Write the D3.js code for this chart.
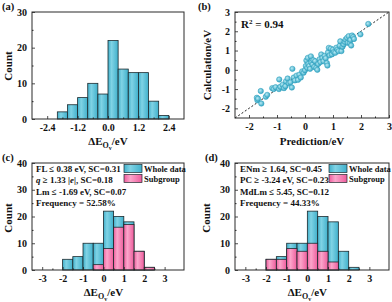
<!DOCTYPE html>
<html>
<head>
<meta charset="utf-8">
<script src="https://cdn.jsdelivr.net/npm/d3@7"></script>
<style>
body { margin: 0; background: #fff; }
text { font-family: "Liberation Serif", "Times New Roman", serif; font-weight: bold; fill: #111; }
</style>
</head>
<body>
<script>
// ---- data ----
var binEdgesA = [-2.0, -1.6, -1.2, -0.8, -0.4, 0, 0.4, 0.8, 1.2, 1.6, 2.0, 2.4];
var countsA = [2, 4, 6, 10, 7, 22, 14, 13, 13, 5, 1];
var xTicksA = [-2.4, -1.2, 0, 1.2, 2.4];
var yTicksA = [0, 10, 20, 30];

var prediction  = [-1.72,-1.70,-1.68,-1.58,-1.56,-1.40,-1.35,-1.17,-1.12,-1.05,-0.92,-0.93,-0.88,-0.80,-0.75,-0.70,-0.68,-0.62,-0.58,-0.52,-0.47,-0.45,-0.40,-0.36,-0.30,-0.25,-0.20,-0.15,-0.10,-0.05,0.00,0.03,0.05,0.08,0.10,0.12,0.15,0.18,0.21,0.23,0.27,0.30,0.33,0.36,0.40,0.44,0.47,0.52,0.55,0.58,0.62,0.66,0.70,0.74,0.78,0.80,0.82,0.85,0.88,0.92,0.96,1.00,1.03,1.08,1.12,1.16,1.20,1.24,1.26,1.30,1.34,1.38,1.42,1.45,1.50,1.53,1.56,1.60,1.62,1.65,1.68,1.72,1.75,1.98,2.26];
var calculation = [-1.45,-1.58,-1.50,-1.10,-1.75,-1.40,-1.30,-0.95,-1.00,-0.90,-0.50,-1.00,-0.88,-0.78,-0.95,-0.85,-0.60,-0.45,-0.70,-0.65,-0.92,0.05,-0.40,-0.55,-0.30,-0.52,-0.25,-0.40,-0.08,-0.15,-0.02,0.20,0.48,0.10,0.62,0.30,0.20,0.05,0.70,0.38,0.28,0.50,0.15,0.45,0.10,0.00,0.30,0.55,0.40,0.80,0.62,0.45,0.72,0.60,0.35,0.22,0.90,1.14,0.75,1.10,0.80,1.05,0.92,0.88,1.15,1.05,0.97,1.25,1.48,0.97,1.20,1.32,1.45,1.57,1.66,1.40,1.75,1.40,1.55,1.26,1.78,1.70,1.60,1.84,2.38];
var ticksB = [-2, -1, 0, 1, 2, 3];
var r2Label = "0.94";

var binEdgesCD = [-2, -1.5, -1, -0.5, 0, 0.5, 1, 1.5, 2, 2.5];
var wholeCounts = [4, 5, 10, 10, 22, 20, 18, 7, 1];
var subgroupC = [0, 0, 0, 2, 8, 16, 17, 7, 1];
var subgroupD = [4, 4, 8, 7, 10, 7, 3, 0, 0];
var xTicksCD = [-3, -2, -1, 0, 1, 2, 3];
var yTicksCD = [0, 10, 20, 30, 40];
var rulesC = ["FL ≤ 0.38 eV, SC=0.31", "*q* ≥ 1.33 |*e*|, SC=0.18", "Lm ≤ -1.69 eV, SC=0.07", "Frequency = 52.58%"];
var rulesD = ["ENm ≥ 1.64, SC=0.45", "PC ≥ -3.24 eV, SC=0.23", "MdLm ≤ 5.45, SC=0.12", "Frequency = 44.33%"];
var legendNames = ["Whole data", "Subgroup"];

var svg = d3.select("body").append("svg").attr("width", 392).attr("height", 302);

// gradients for the bevelled fills
var defs = svg.append("defs");
function barGrad(id, c1, c2) {
  var g = defs.append("linearGradient").attr("id", id).attr("x1", "0").attr("x2", "1").attr("y1", "0").attr("y2", "0");
  g.append("stop").attr("offset", "0").attr("stop-color", c2);
  g.append("stop").attr("offset", "0.35").attr("stop-color", c1);
  g.append("stop").attr("offset", "1").attr("stop-color", c2);
}
barGrad("cyan", "#80d3e5", "#40b0cb");
barGrad("pink", "#fba6cb", "#ee5c9c");
var rg = defs.append("radialGradient").attr("id", "ball").attr("cx", "0.4").attr("cy", "0.4").attr("r", "0.6");
rg.append("stop").attr("offset", "0").attr("stop-color", "#b8eaf4");
rg.append("stop").attr("offset", "1").attr("stop-color", "#36a7c4");

// frame + inward ticks
function drawAxes(g, x, y, xt, yt, xMinor, yMinor, xFmt) {
  var x0 = x.range()[0], x1 = x.range()[1], y0 = y.range()[0], y1 = y.range()[1];
  g.append("g").attr("transform", `translate(0,${y0})`)
    .call(d3.axisBottom(x).tickValues(xMinor).tickSize(-1.5).tickFormat(""))
    .call(s => s.select(".domain").remove());
  g.append("g").attr("transform", `translate(${x0},0)`)
    .call(d3.axisLeft(y).tickValues(yMinor).tickSize(-1.5).tickFormat(""))
    .call(s => s.select(".domain").remove());
  var xa = g.append("g").attr("transform", `translate(0,${y0})`)
    .call(d3.axisBottom(x).tickValues(xt).tickSize(-3).tickPadding(5).tickFormat(xFmt));
  var ya = g.append("g").attr("transform", `translate(${x0},0)`)
    .call(d3.axisLeft(y).tickValues(yt).tickSize(-3).tickPadding(5).tickFormat(d3.format("d")));
  [xa, ya].forEach(function(a) {
    a.select(".domain").remove();
    a.selectAll("text").style("font-size", "10px").attr("fill", "#111");
    a.selectAll(".tick line").attr("stroke-width", 0.8);
  });
  g.selectAll("line").attr("stroke", "#222");
  g.append("rect").attr("x", x0).attr("y", y1).attr("width", x1 - x0).attr("height", y0 - y1)
    .attr("fill", "none").attr("stroke", "#2a2a2a").attr("stroke-width", 1);
}

function panelLabel(x, y, t) {
  svg.append("text").attr("x", x).attr("y", y).style("font-size", "10.5px").text(t);
}

function yTitle(x, y, t) {
  svg.append("text").attr("transform", `translate(${x},${y}) rotate(-90)`)
    .attr("text-anchor", "middle").style("font-size", "11px").text(t);
}

// ΔE_{O_v}/eV
function dEtitle(x, y) {
  var t = svg.append("text").attr("x", x).attr("y", y).attr("text-anchor", "middle").style("font-size", "11px");
  t.append("tspan").text("ΔE");
  t.append("tspan").attr("dy", 3).style("font-size", "8px").text("O");
  t.append("tspan").attr("dy", 2).style("font-size", "6px").text("v");
  t.append("tspan").attr("dy", -5).text("/eV");
}

function bars(g, x, y, edges, counts, fill) {
  g.selectAll(null).data(counts).join("rect")
    .attr("x", (d, i) => x(edges[i]))
    .attr("width", (d, i) => x(edges[i + 1]) - x(edges[i]))
    .attr("y", d => y(d))
    .attr("height", d => y(0) - y(d))
    .attr("fill", fill)
    .attr("stroke", "#1d2a2e")
    .attr("stroke-width", d => d > 0 ? 0.8 : 0);
}

// ---- (a) ----
var ga = svg.append("g");
var xA = d3.scaleLinear().domain([-3, 3]).range([32, 184]);
var yA = d3.scaleLinear().domain([0, 30]).range([119, 12]);
bars(ga, xA, yA, binEdgesA, countsA, "url(#cyan)");
drawAxes(ga, xA, yA, xTicksA, yTicksA, [-1.8, -0.6, 0.6, 1.8], [5, 15, 25], d3.format(".1f"));
panelLabel(2, 10, "(a)");
yTitle(12, 66, "Count");
dEtitle(108, 145);

// ---- (b) ----
var gb = svg.append("g");
var xB = d3.scaleLinear().domain([-2.5, 3]).range([235, 389]);
var yB = d3.scaleLinear().domain([-2.5, 3]).range([118, 12]);
gb.append("line")
  .attr("x1", xB(-2.5)).attr("y1", yB(-2.5)).attr("x2", xB(3)).attr("y2", yB(3))
  .attr("stroke", "#333").attr("stroke-width", 1).attr("stroke-dasharray", "2,2");
gb.selectAll("circle").data(prediction).join("circle")
  .attr("cx", d => xB(d))
  .attr("cy", (d, i) => yB(calculation[i]))
  .attr("r", 2.7)
  .attr("fill", "url(#ball)")
  .attr("stroke", "#2f9fbd").attr("stroke-width", 0.5);
drawAxes(gb, xB, yB, ticksB, ticksB, [-1.5, -0.5, 0.5, 1.5, 2.5], [-1.5, -0.5, 0.5, 1.5, 2.5], d3.format("d"));
var r2 = svg.append("text").attr("x", 241).attr("y", 28).style("font-size", "11px");
r2.append("tspan").text("R");
r2.append("tspan").attr("dy", -4).style("font-size", "7px").text("2");
r2.append("tspan").attr("dy", 4).text(" = " + r2Label);
panelLabel(198, 10, "(b)");
yTitle(211, 65, "Calculation/eV");
svg.append("text").attr("x", 312).attr("y", 145).attr("text-anchor", "middle").style("font-size", "11px").text("Prediction/eV");

// ---- (c) and (d) ----
function subgroupPanel(left, right, sub, rules, label, textX, legX, titleX) {
  var g = svg.append("g");
  var x = d3.scaleLinear().domain([-3.5, 3.95]).range([left, right]);
  var y = d3.scaleLinear().domain([0, 40]).range([270, 163]);
  bars(g, x, y, binEdgesCD, wholeCounts, "url(#cyan)");
  bars(g, x, y, binEdgesCD, sub, "url(#pink)");
  drawAxes(g, x, y, xTicksCD, yTicksCD, [-2.5, -1.5, -0.5, 0.5, 1.5, 2.5], [5, 15, 25, 35], d3.format("d"));
  rules.forEach(function(r, i) {
    var t = g.append("text").attr("x", textX).attr("y", 172 + i * 11.3).style("font-size", "9px");
    r.split("*").forEach(function(part, j) {
      if (part.length) t.append("tspan").style("font-style", j % 2 ? "italic" : "normal").text(part);
    });
  });
  ["url(#cyan)", "url(#pink)"].forEach(function(f, i) {
    g.append("rect").attr("x", legX).attr("y", 164.5 + i * 10).attr("width", 18).attr("height", 8)
      .attr("fill", f).attr("stroke", "#1d2a2e").attr("stroke-width", 0.7);
    g.append("text").attr("x", legX + 20).attr("y", 171.5 + i * 10).style("font-size", "8.5px").text(legendNames[i]);
  });
  panelLabel(left - 30, 161, label);
  yTitle(titleX, 218, "Count");
  dEtitle(x(0), 296);
}
subgroupPanel(32, 184, subgroupC, rulesC, "(c)", 36, 124, 12);
subgroupPanel(235, 389, subgroupD, rulesD, "(d)", 240, 329, 210);

// d3 uses a real minus sign; the figure uses a hyphen
svg.selectAll(".tick text").each(function() {
  this.textContent = this.textContent.replace("−", "-");
});
</script>
</body>
</html>
